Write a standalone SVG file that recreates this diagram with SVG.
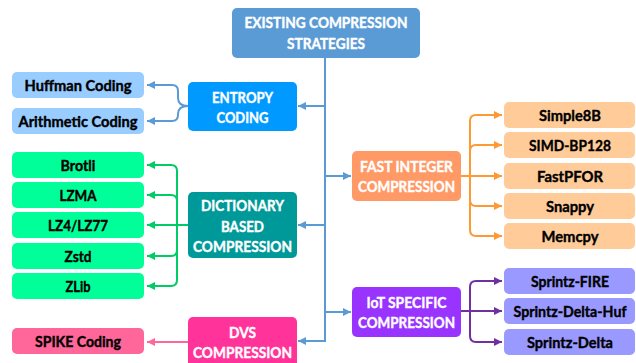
<svg xmlns="http://www.w3.org/2000/svg" width="636" height="363" viewBox="0 0 636 363">
  <style>
    text { font-family: Lato, "Liberation Sans", sans-serif; font-weight: 700; font-size: 16px; text-anchor: middle; stroke-width: 0.4px; }
    .w { fill: #ffffff; stroke: #ffffff; }
    .k { fill: #000000; stroke: #000000; }
    .ln { fill: none; stroke-width: 2; }
    .blue { stroke: #5b9bd5; }
    .green { stroke: #00cc66; }
    .orange { stroke: #ff9933; }
    .purple { stroke: #7030a0; }
    .pink { stroke: #ff6699; }
  </style>
  <defs>
    <marker id="arBlue" viewBox="0 0 10 10" refX="10" refY="5" markerUnits="userSpaceOnUse" markerWidth="9" markerHeight="8" orient="auto"><path d="M0,0 L10,5 L0,10 z" fill="#5b9bd5"/></marker>
    <marker id="arGreen" viewBox="0 0 10 10" refX="10" refY="5" markerUnits="userSpaceOnUse" markerWidth="9" markerHeight="8" orient="auto"><path d="M0,0 L10,5 L0,10 z" fill="#00cc66"/></marker>
    <marker id="arOrange" viewBox="0 0 10 10" refX="10" refY="5" markerUnits="userSpaceOnUse" markerWidth="9" markerHeight="8" orient="auto"><path d="M0,0 L10,5 L0,10 z" fill="#ff9933"/></marker>
    <marker id="arPurple" viewBox="0 0 10 10" refX="10" refY="5" markerUnits="userSpaceOnUse" markerWidth="9" markerHeight="8" orient="auto"><path d="M0,0 L10,5 L0,10 z" fill="#7030a0"/></marker>
    <marker id="arPink" viewBox="0 0 10 10" refX="10" refY="5" markerUnits="userSpaceOnUse" markerWidth="9" markerHeight="8" orient="auto"><path d="M0,0 L10,5 L0,10 z" fill="#ff6699"/></marker>
  </defs>

  <!-- connectors -->
  <g id="connectors">
    <!-- trunk -->
    <path class="ln blue" d="M325,58 V341 H298" marker-end="url(#arBlue)"/>
    <path class="ln blue" d="M325,106 H298" marker-end="url(#arBlue)"/>
    <path class="ln blue" d="M325,225 H298" marker-end="url(#arBlue)"/>
    <path class="ln blue" d="M325,176 H351" marker-end="url(#arBlue)"/>
    <path class="ln blue" d="M325,312 H351" marker-end="url(#arBlue)"/>
    <!-- entropy coding -->
    <path class="ln blue" d="M188,106 Q178,106 178,98 V91 Q178,85 172,85 H147" marker-end="url(#arBlue)"/>
    <path class="ln blue" d="M188,106 Q178,106 178,114 V115 Q178,121 172,121 H147" marker-end="url(#arBlue)"/>
    <!-- dictionary based -->
    <path class="ln green" d="M188,225 H147" marker-end="url(#arGreen)"/>
    <path class="ln green" d="M177,225 V171 Q177,165 171,165 H147" marker-end="url(#arGreen)"/>
    <path class="ln green" d="M177,201 Q177,195 171,195 H147" marker-end="url(#arGreen)"/>
    <path class="ln green" d="M177,250 Q177,256 171,256 H147" marker-end="url(#arGreen)"/>
    <path class="ln green" d="M177,225 V280 Q177,286 171,286 H147" marker-end="url(#arGreen)"/>
    <!-- dvs -->
    <path class="ln pink" d="M188,342 H147" marker-end="url(#arPink)"/>
    <!-- fast integer -->
    <path class="ln orange" d="M461,176 H502" marker-end="url(#arOrange)"/>
    <path class="ln orange" d="M470,176 V121 Q470,115 476,115 H502" marker-end="url(#arOrange)"/>
    <path class="ln orange" d="M470,151 Q470,145 476,145 H502" marker-end="url(#arOrange)"/>
    <path class="ln orange" d="M470,200 Q470,206 476,206 H502" marker-end="url(#arOrange)"/>
    <path class="ln orange" d="M470,176 V230 Q470,236 476,236 H502" marker-end="url(#arOrange)"/>
    <!-- iot specific -->
    <path class="ln purple" d="M461,311 H502" marker-end="url(#arPurple)"/>
    <path class="ln purple" d="M470,311 V287 Q470,281 476,281 H502" marker-end="url(#arPurple)"/>
    <path class="ln purple" d="M470,311 V336 Q470,342 476,342 H502" marker-end="url(#arPurple)"/>
  </g>

  <!-- root -->
  <g id="root">
    <rect x="232" y="8" width="188" height="50" rx="5" fill="#5b9bd5"/>
    <text class="w" x="326" y="28" textLength="163" lengthAdjust="spacingAndGlyphs">EXISTING COMPRESSION</text>
    <text class="w" x="326" y="49" textLength="78" lengthAdjust="spacingAndGlyphs">STRATEGIES</text>
  </g>

  <!-- categories -->
  <g id="entropy">
    <rect x="188" y="82" width="109" height="49" rx="5" fill="#0099ff"/>
    <text class="w" x="242.5" y="102.5" textLength="61" lengthAdjust="spacingAndGlyphs">ENTROPY</text>
    <text class="w" x="242.5" y="123" textLength="52" lengthAdjust="spacingAndGlyphs">CODING</text>
  </g>
  <g id="dictionary">
    <rect x="188" y="192" width="109" height="66" rx="5" fill="#009999"/>
    <text class="w" x="242.5" y="211" textLength="83" lengthAdjust="spacingAndGlyphs">DICTIONARY</text>
    <text class="w" x="242.5" y="232" textLength="43" lengthAdjust="spacingAndGlyphs">BASED</text>
    <text class="w" x="242.5" y="252" textLength="99" lengthAdjust="spacingAndGlyphs">COMPRESSION</text>
  </g>
  <g id="dvs">
    <rect x="188" y="317" width="109" height="52" rx="5" fill="#ff3399"/>
    <text class="w" x="242.5" y="338" textLength="27" lengthAdjust="spacingAndGlyphs">DVS</text>
    <text class="w" x="242.5" y="358" textLength="99" lengthAdjust="spacingAndGlyphs">COMPRESSION</text>
  </g>
  <g id="fastint">
    <rect x="352" y="151" width="109" height="50" rx="5" fill="#ff9966"/>
    <text class="w" x="406.5" y="172" textLength="93" lengthAdjust="spacingAndGlyphs">FAST INTEGER</text>
    <text class="w" x="406.5" y="192" textLength="97" lengthAdjust="spacingAndGlyphs">COMPRESSION</text>
  </g>
  <g id="iot">
    <rect x="352" y="287" width="109" height="50" rx="5" fill="#9933ff"/>
    <text class="w" x="406.5" y="308" textLength="80" lengthAdjust="spacingAndGlyphs">IoT SPECIFIC</text>
    <text class="w" x="406.5" y="328" textLength="97" lengthAdjust="spacingAndGlyphs">COMPRESSION</text>
  </g>

  <!-- entropy leaves -->
  <g id="huffman"><rect x="12" y="72" width="132" height="26" rx="5" fill="#99ccff"/><text class="k" x="78" y="91" textLength="107" lengthAdjust="spacingAndGlyphs">Huffman Coding</text></g>
  <g id="arithmetic"><rect x="12" y="108" width="132" height="26" rx="5" fill="#99ccff"/><text class="k" x="78" y="127" textLength="119" lengthAdjust="spacingAndGlyphs">Arithmetic Coding</text></g>

  <!-- dictionary leaves -->
  <g id="brotli"><rect x="12" y="152" width="132" height="26" rx="5" fill="#00ff99"/><text class="k" x="78" y="171" textLength="35" lengthAdjust="spacingAndGlyphs">Brotli</text></g>
  <g id="lzma"><rect x="12" y="182" width="132" height="26" rx="5" fill="#00ff99"/><text class="k" x="78" y="201" textLength="37" lengthAdjust="spacingAndGlyphs">LZMA</text></g>
  <g id="lz4"><rect x="12" y="212" width="132" height="26" rx="5" fill="#00ff99"/><text class="k" x="78" y="231" textLength="60" lengthAdjust="spacingAndGlyphs">LZ4/LZ77</text></g>
  <g id="zstd"><rect x="12" y="243" width="132" height="26" rx="5" fill="#00ff99"/><text class="k" x="78" y="262" textLength="27" lengthAdjust="spacingAndGlyphs">Zstd</text></g>
  <g id="zlib"><rect x="12" y="273" width="132" height="26" rx="5" fill="#00ff99"/><text class="k" x="78" y="292" textLength="25" lengthAdjust="spacingAndGlyphs">ZLib</text></g>

  <!-- dvs leaf -->
  <g id="spike"><rect x="12" y="328" width="132" height="26" rx="5" fill="#ff6699"/><text class="k" x="78" y="347" textLength="86" lengthAdjust="spacingAndGlyphs">SPIKE Coding</text></g>

  <!-- fast integer leaves -->
  <g id="simple8b"><rect x="504" y="102" width="131" height="26" rx="5" fill="#ffcc99"/><text class="k" x="570" y="121" textLength="62" lengthAdjust="spacingAndGlyphs">Simple8B</text></g>
  <g id="simdbp128"><rect x="504" y="132" width="131" height="26" rx="5" fill="#ffcc99"/><text class="k" x="570" y="151" textLength="82" lengthAdjust="spacingAndGlyphs">SIMD-BP128</text></g>
  <g id="fastpfor"><rect x="504" y="163" width="131" height="26" rx="5" fill="#ffcc99"/><text class="k" x="570" y="182" textLength="66" lengthAdjust="spacingAndGlyphs">FastPFOR</text></g>
  <g id="snappy"><rect x="504" y="193" width="131" height="26" rx="5" fill="#ffcc99"/><text class="k" x="570" y="212" textLength="48" lengthAdjust="spacingAndGlyphs">Snappy</text></g>
  <g id="memcpy"><rect x="504" y="223" width="131" height="26" rx="5" fill="#ffcc99"/><text class="k" x="570" y="242" textLength="57" lengthAdjust="spacingAndGlyphs">Memcpy</text></g>

  <!-- iot leaves -->
  <g id="sprintzfire"><rect x="504" y="268" width="131" height="26" rx="5" fill="#9999ff"/><text class="k" x="570" y="287" textLength="78" lengthAdjust="spacingAndGlyphs">Sprintz-FIRE</text></g>
  <g id="sprintzdeltahuf"><rect x="504" y="298" width="131" height="26" rx="5" fill="#9999ff"/><text class="k" x="570" y="316.5" font-size="15" textLength="113" lengthAdjust="spacingAndGlyphs">Sprintz-Delta-Huf</text></g>
  <g id="sprintzdelta"><rect x="504" y="329" width="131" height="26" rx="5" fill="#9999ff"/><text class="k" x="570" y="348" textLength="86" lengthAdjust="spacingAndGlyphs">Sprintz-Delta</text></g>
</svg>
